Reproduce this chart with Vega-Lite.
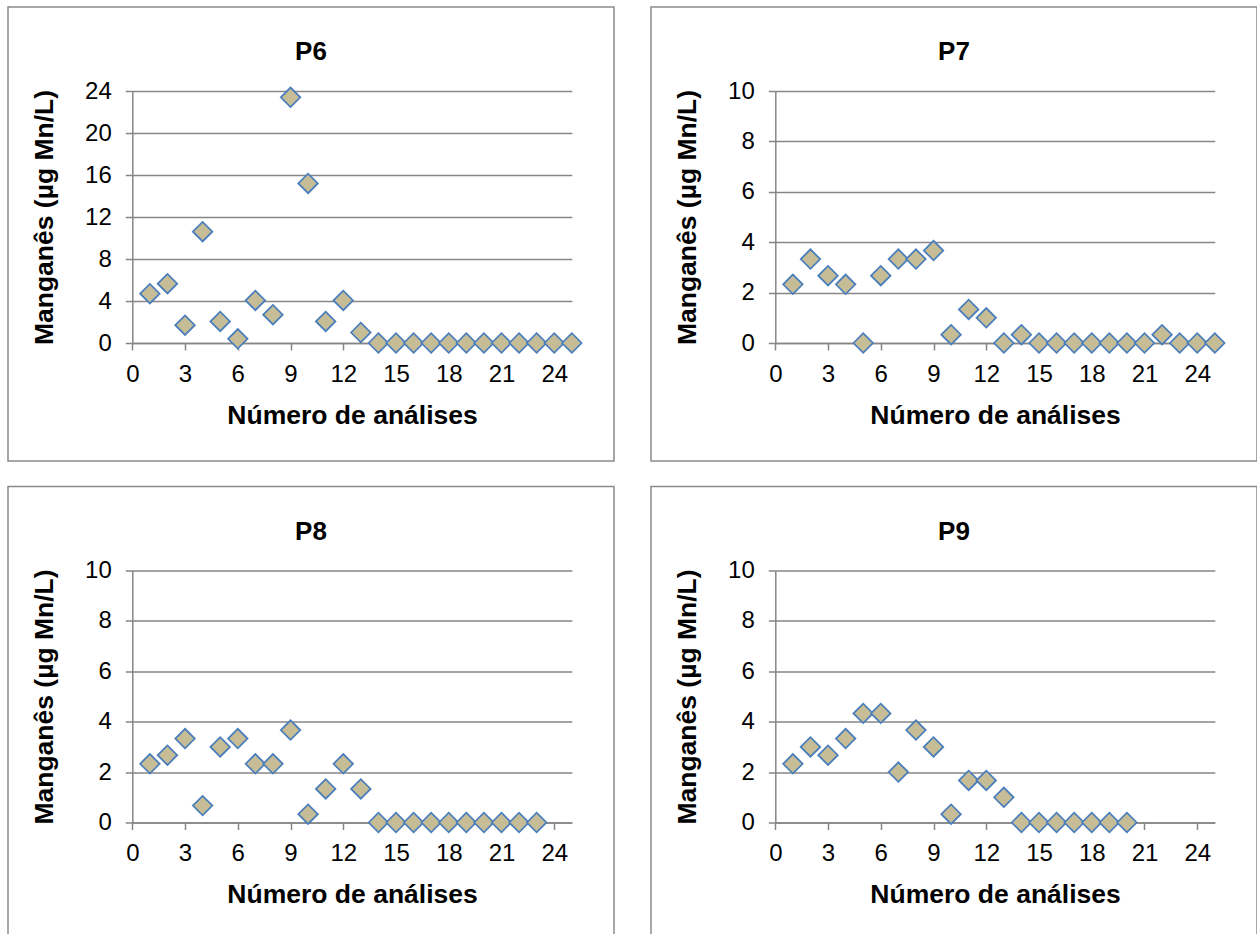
{
  "$schema": "https://vega.github.io/schema/vega-lite/v6.json",
  "background": "white",
  "padding": {"left": 7, "top": 6, "right": 0, "bottom": 0},
  "spacing": 23.5,
  "data": {"values": [
    {"ponto": "P6", "n": 1, "mn": 4.7}, {"ponto": "P6", "n": 2, "mn": 5.65}, {"ponto": "P6", "n": 3, "mn": 1.7},
    {"ponto": "P6", "n": 4, "mn": 10.6}, {"ponto": "P6", "n": 5, "mn": 2.05}, {"ponto": "P6", "n": 6, "mn": 0.4},
    {"ponto": "P6", "n": 7, "mn": 4.05}, {"ponto": "P6", "n": 8, "mn": 2.7}, {"ponto": "P6", "n": 9, "mn": 23.4},
    {"ponto": "P6", "n": 10, "mn": 15.2}, {"ponto": "P6", "n": 11, "mn": 2.05}, {"ponto": "P6", "n": 12, "mn": 4.05},
    {"ponto": "P6", "n": 13, "mn": 1.0}, {"ponto": "P6", "n": 14, "mn": 0}, {"ponto": "P6", "n": 15, "mn": 0},
    {"ponto": "P6", "n": 16, "mn": 0}, {"ponto": "P6", "n": 17, "mn": 0}, {"ponto": "P6", "n": 18, "mn": 0},
    {"ponto": "P6", "n": 19, "mn": 0}, {"ponto": "P6", "n": 20, "mn": 0}, {"ponto": "P6", "n": 21, "mn": 0},
    {"ponto": "P6", "n": 22, "mn": 0}, {"ponto": "P6", "n": 23, "mn": 0}, {"ponto": "P6", "n": 24, "mn": 0},
    {"ponto": "P6", "n": 25, "mn": 0},
    {"ponto": "P7", "n": 1, "mn": 2.33}, {"ponto": "P7", "n": 2, "mn": 3.33}, {"ponto": "P7", "n": 3, "mn": 2.67},
    {"ponto": "P7", "n": 4, "mn": 2.33}, {"ponto": "P7", "n": 5, "mn": 0}, {"ponto": "P7", "n": 6, "mn": 2.67},
    {"ponto": "P7", "n": 7, "mn": 3.33}, {"ponto": "P7", "n": 8, "mn": 3.33}, {"ponto": "P7", "n": 9, "mn": 3.67},
    {"ponto": "P7", "n": 10, "mn": 0.33}, {"ponto": "P7", "n": 11, "mn": 1.33}, {"ponto": "P7", "n": 12, "mn": 1.0},
    {"ponto": "P7", "n": 13, "mn": 0}, {"ponto": "P7", "n": 14, "mn": 0.33}, {"ponto": "P7", "n": 15, "mn": 0},
    {"ponto": "P7", "n": 16, "mn": 0}, {"ponto": "P7", "n": 17, "mn": 0}, {"ponto": "P7", "n": 18, "mn": 0},
    {"ponto": "P7", "n": 19, "mn": 0}, {"ponto": "P7", "n": 20, "mn": 0}, {"ponto": "P7", "n": 21, "mn": 0},
    {"ponto": "P7", "n": 22, "mn": 0.33}, {"ponto": "P7", "n": 23, "mn": 0}, {"ponto": "P7", "n": 24, "mn": 0},
    {"ponto": "P7", "n": 25, "mn": 0},
    {"ponto": "P8", "n": 1, "mn": 2.33}, {"ponto": "P8", "n": 2, "mn": 2.67}, {"ponto": "P8", "n": 3, "mn": 3.33},
    {"ponto": "P8", "n": 4, "mn": 0.67}, {"ponto": "P8", "n": 5, "mn": 3.0}, {"ponto": "P8", "n": 6, "mn": 3.33},
    {"ponto": "P8", "n": 7, "mn": 2.33}, {"ponto": "P8", "n": 8, "mn": 2.33}, {"ponto": "P8", "n": 9, "mn": 3.67},
    {"ponto": "P8", "n": 10, "mn": 0.33}, {"ponto": "P8", "n": 11, "mn": 1.33}, {"ponto": "P8", "n": 12, "mn": 2.33},
    {"ponto": "P8", "n": 13, "mn": 1.33}, {"ponto": "P8", "n": 14, "mn": 0}, {"ponto": "P8", "n": 15, "mn": 0},
    {"ponto": "P8", "n": 16, "mn": 0}, {"ponto": "P8", "n": 17, "mn": 0}, {"ponto": "P8", "n": 18, "mn": 0},
    {"ponto": "P8", "n": 19, "mn": 0}, {"ponto": "P8", "n": 20, "mn": 0}, {"ponto": "P8", "n": 21, "mn": 0},
    {"ponto": "P8", "n": 22, "mn": 0}, {"ponto": "P8", "n": 23, "mn": 0},
    {"ponto": "P9", "n": 1, "mn": 2.33}, {"ponto": "P9", "n": 2, "mn": 3.0}, {"ponto": "P9", "n": 3, "mn": 2.67},
    {"ponto": "P9", "n": 4, "mn": 3.33}, {"ponto": "P9", "n": 5, "mn": 4.33}, {"ponto": "P9", "n": 6, "mn": 4.33},
    {"ponto": "P9", "n": 7, "mn": 2.0}, {"ponto": "P9", "n": 8, "mn": 3.67}, {"ponto": "P9", "n": 9, "mn": 3.0},
    {"ponto": "P9", "n": 10, "mn": 0.33}, {"ponto": "P9", "n": 11, "mn": 1.67}, {"ponto": "P9", "n": 12, "mn": 1.67},
    {"ponto": "P9", "n": 13, "mn": 1.0}, {"ponto": "P9", "n": 14, "mn": 0}, {"ponto": "P9", "n": 15, "mn": 0},
    {"ponto": "P9", "n": 16, "mn": 0}, {"ponto": "P9", "n": 17, "mn": 0}, {"ponto": "P9", "n": 18, "mn": 0},
    {"ponto": "P9", "n": 19, "mn": 0}, {"ponto": "P9", "n": 20, "mn": 0}
  ]},
  "vconcat": [
    {
      "bounds": "flush",
      "spacing": 37,
      "hconcat": [
        {
          "width": 606, "height": 454,
          "title": {"text": "P6"},
          "transform": [{"filter": "datum.ponto == 'P6'"}],
          "mark": {"type": "point", "shape": "diamond", "filled": true, "size": 380, "fill": "#c6bd96", "stroke": "#4a7ebb", "strokeWidth": 1.75, "opacity": 1},
          "encoding": {
            "x": {"field": "n", "type": "quantitative", "scale": {"domain": [0, 25], "range": [124.3, 563.8], "nice": false, "zero": false},
                  "axis": {"title": "Número de análises", "values": [0, 3, 6, 9, 12, 15, 18, 21, 24], "offset": -118}},
            "y": {"field": "mn", "type": "quantitative", "scale": {"domain": [0, 24], "range": [336, 84], "nice": false},
                  "axis": {"title": "Manganês (µg Mn/L)", "values": [0, 4, 8, 12, 16, 20, 24], "offset": -124.3}}
          }
        },
        {
          "width": 606, "height": 454,
          "title": {"text": "P7"},
          "transform": [{"filter": "datum.ponto == 'P7'"}],
          "mark": {"type": "point", "shape": "diamond", "filled": true, "size": 380, "fill": "#c6bd96", "stroke": "#4a7ebb", "strokeWidth": 1.75, "opacity": 1},
          "encoding": {
            "x": {"field": "n", "type": "quantitative", "scale": {"domain": [0, 25], "range": [124.3, 563.8], "nice": false, "zero": false},
                  "axis": {"title": "Número de análises", "values": [0, 3, 6, 9, 12, 15, 18, 21, 24], "offset": -118}},
            "y": {"field": "mn", "type": "quantitative", "scale": {"domain": [0, 10], "range": [336, 84], "nice": false},
                  "axis": {"title": "Manganês (µg Mn/L)", "values": [0, 2, 4, 6, 8, 10], "offset": -124.3}}
          }
        }
      ]
    },
    {
      "bounds": "flush",
      "spacing": 37,
      "hconcat": [
        {
          "width": 606, "height": 454,
          "title": {"text": "P8"},
          "transform": [{"filter": "datum.ponto == 'P8'"}],
          "mark": {"type": "point", "shape": "diamond", "filled": true, "size": 380, "fill": "#c6bd96", "stroke": "#4a7ebb", "strokeWidth": 1.75, "opacity": 1},
          "encoding": {
            "x": {"field": "n", "type": "quantitative", "scale": {"domain": [0, 25], "range": [124.3, 563.8], "nice": false, "zero": false},
                  "axis": {"title": "Número de análises", "values": [0, 3, 6, 9, 12, 15, 18, 21, 24], "offset": -118}},
            "y": {"field": "mn", "type": "quantitative", "scale": {"domain": [0, 10], "range": [336, 84], "nice": false},
                  "axis": {"title": "Manganês (µg Mn/L)", "values": [0, 2, 4, 6, 8, 10], "offset": -124.3}}
          }
        },
        {
          "width": 606, "height": 454,
          "title": {"text": "P9"},
          "transform": [{"filter": "datum.ponto == 'P9'"}],
          "mark": {"type": "point", "shape": "diamond", "filled": true, "size": 380, "fill": "#c6bd96", "stroke": "#4a7ebb", "strokeWidth": 1.75, "opacity": 1},
          "encoding": {
            "x": {"field": "n", "type": "quantitative", "scale": {"domain": [0, 25], "range": [124.3, 563.8], "nice": false, "zero": false},
                  "axis": {"title": "Número de análises", "values": [0, 3, 6, 9, 12, 15, 18, 21, 24], "offset": -118}},
            "y": {"field": "mn", "type": "quantitative", "scale": {"domain": [0, 10], "range": [336, 84], "nice": false},
                  "axis": {"title": "Manganês (µg Mn/L)", "values": [0, 2, 4, 6, 8, 10], "offset": -124.3}}
          }
        }
      ]
    }
  ],
  "config": {
    "font": "Liberation Sans",
    "view": {"stroke": "#8a8a8a", "strokeWidth": 1.5, "fill": "white"},
    "title": {"fontSize": 26, "fontWeight": "bold", "color": "#000000", "anchor": "middle", "frame": "group", "baseline": "alphabetic", "offset": -58},
    "axis": {
      "domainColor": "#868686", "domainWidth": 1.5,
      "tickColor": "#868686", "tickWidth": 1.5, "tickSize": 7,
      "gridColor": "#868686", "gridWidth": 1.5,
      "labelFontSize": 24, "labelColor": "#000000", "labelFlush": false, "labelOverlap": false,
      "titleFontSize": 26.5, "titleFontWeight": "bold", "titleColor": "#000000", "titleBaseline": "alphabetic"
    },
    "axisX": {"grid": false, "labelPadding": 12, "titleY": 80},
    "axisY": {"grid": true, "labelPadding": 14, "titleX": -80}
  }
}
